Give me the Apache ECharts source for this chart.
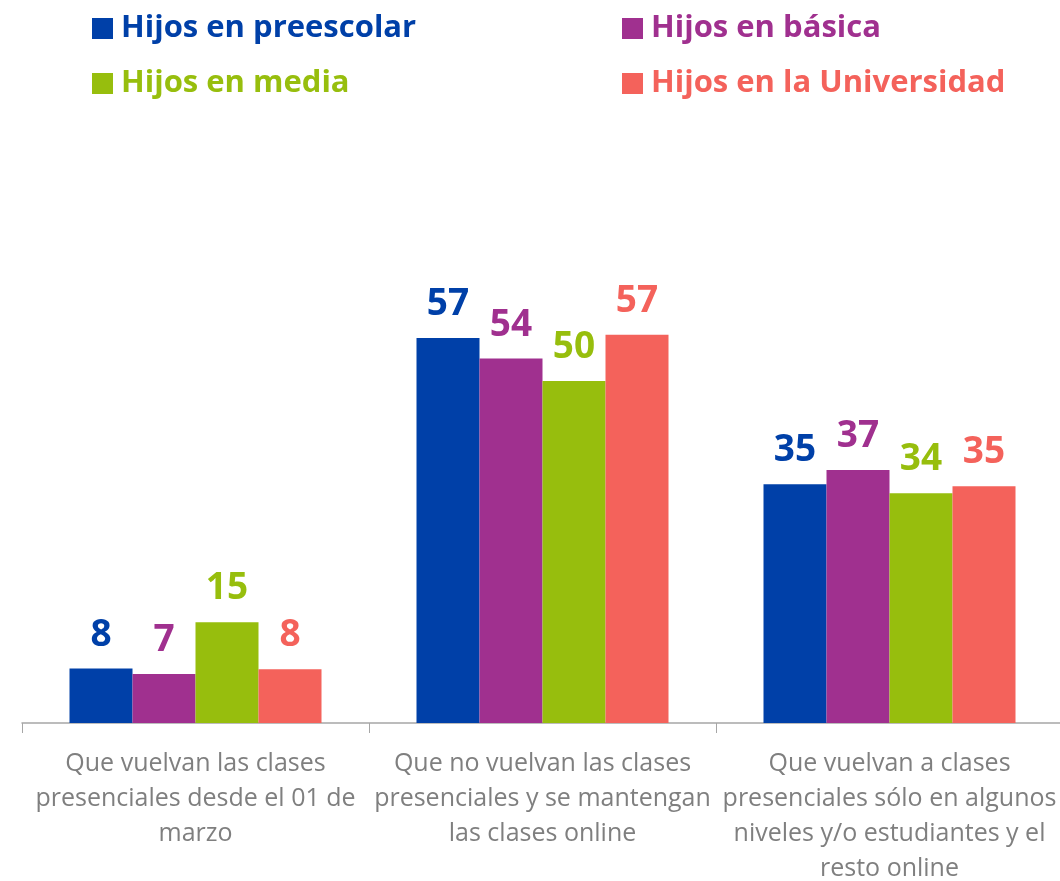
<!DOCTYPE html>
<html>
<head>
<meta charset="utf-8">
<script src="https://cdn.jsdelivr.net/npm/echarts@6/dist/echarts.min.js"></script>
<style>
  html, body { margin: 0; padding: 0; background: #fff; }
  #Bar { width: 1060px; height: 881px; }
</style>
</head>
<body>
<div id="Bar"></div>
<script>
// categorias del eje x
var categorias = [
  "Que vuelvan las clases\npresenciales desde el 01 de\nmarzo",
  "Que no vuelvan las clases\npresenciales y se mantengan\nlas clases online",
  "Que vuelvan a clases\npresenciales sólo en algunos\nniveles y/o estudiantes y el\nresto online"
]
var nombres = ["Hijos en preescolar", "Hijos en básica", "Hijos en media", "Hijos en la Universidad"]
var colores = ["#0040A8", "#A0308F", "#97BE0D", "#F4625B"]

// valores (%)
var preescolar = [8.0, 56.6, 35.1]
var basica = [7.2, 53.6, 37.2]
var media = [14.8, 50.3, 33.8]
var universidad = [7.9, 57.1, 34.8]
var valores = [preescolar, basica, media, universidad]

var fuente = "Open Sans"

var Echarts = echarts.init(document.getElementById("Bar"))

// leyenda: una por item para fijar la posicion de cada una
var posLeyenda = [[92, 13], [622, 13], [92, 68], [622, 68]]
var leyendas = nombres.map(function (n, i) {
  return {
    data: [n],
    left: posLeyenda[i][0],
    top: posLeyenda[i][1],
    padding: 0,
    icon: "rect",
    itemWidth: 21,
    itemHeight: 21,
    itemGap: 0,
    selectedMode: false,
    textStyle: { color: colores[i], fontFamily: fuente, fontWeight: "bold", fontSize: 31, padding: [0, 0, 0, 3] }
  }
})

var series = valores.map(function (v, i) {
  return {
    type: "bar",
    name: nombres[i],
    data: v,
    barWidth: 63,
    barGap: "0%",
    itemStyle: { color: colores[i] },
    label: {
      show: true,
      position: "top",
      distance: 15,
      color: colores[i],
      fontFamily: fuente,
      fontWeight: "bold",
      fontSize: 37,
      formatter: function (p) { return Math.round(p.value) }
    }
  }
})

Echarts.setOption({
  animation: false,
  legend: leyendas,
  // sin ajuste automatico: la grilla queda donde se pide
  grid: { left: 22, width: 1041, top: 179, height: 544, containLabel: false, outerBoundsMode: "none" },
  xAxis: {
    type: "category",
    data: categorias,
    axisLine: { lineStyle: { color: "#A6A6A6", width: 1.5 } },
    axisTick: { show: true, length: 10, lineStyle: { color: "#A6A6A6" } },
    axisLabel: {
      interval: 0,
      margin: 23,
      color: "#7F7F7F",
      fontFamily: fuente,
      fontSize: 25,
      lineHeight: 35,
      align: "center"
    }
  },
  yAxis: {
    type: "value",
    min: 0,
    max: 80,
    show: false,
    splitLine: { show: false }
  },
  series: series
})
</script>
</body>
</html>
